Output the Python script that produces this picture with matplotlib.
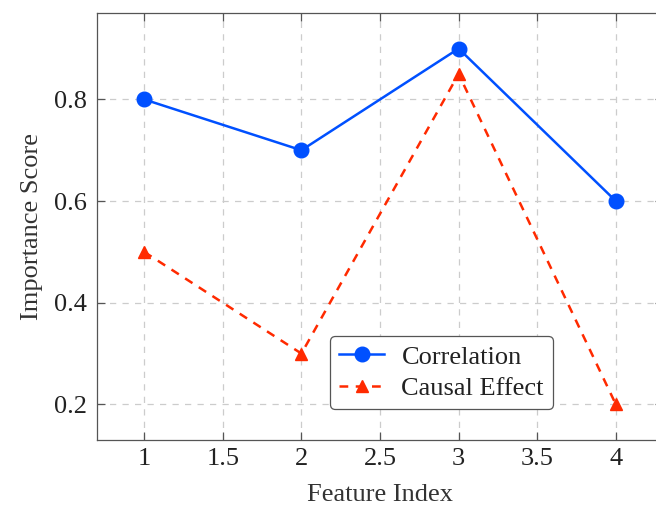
import matplotlib
matplotlib.use("Agg")
import matplotlib.pyplot as plt

features = [1, 2, 3, 4]
correlation = [0.8, 0.7, 0.9, 0.6]
causal_effect = [0.5, 0.3, 0.85, 0.2]
x_ticks = [1, 1.5, 2, 2.5, 3, 3.5, 4]
y_ticks = [0.2, 0.4, 0.6, 0.8]

plt.rcParams["font.family"] = ["Liberation Serif", "DejaVu Serif"]
plt.rcParams["text.color"] = "#222222"
plt.rcParams["xtick.labelcolor"] = "#222222"
plt.rcParams["ytick.labelcolor"] = "#222222"
plt.rcParams["axes.labelcolor"] = "#333333"

fig = plt.figure(figsize=(6.56, 5.08), dpi=100)
ax = fig.add_axes([0.1479, 0.1339, 0.8628, 0.8405])

ax.plot(features, correlation, color="#0050ff", linewidth=1.8, marker="o",
        markersize=10.5, label="Correlation", zorder=3)
ax.plot(features, causal_effect, color="#ff2a00", linewidth=1.8, linestyle=(0, (3.5, 3)),
        marker="^", markersize=9, label="Causal Effect", zorder=3)

ax.set_xlim(0.7, 4.3)
ax.set_ylim(0.13, 0.97)
ax.set_xticks(x_ticks)
ax.set_xticklabels([f"{t:g}" for t in x_ticks])
ax.set_yticks(y_ticks)
ax.set_yticklabels([f"{t:g}" for t in y_ticks])

ax.grid(True, color="#cccccc", linestyle=(0, (5, 5)), linewidth=0.9)
ax.tick_params(direction="in", length=6, width=0.9, color="#555555",
               labelsize=19, top=True, right=True)
ax.tick_params(axis="x", pad=6)
ax.tick_params(axis="y", pad=7)
for spine in ax.spines.values():
    spine.set_color("#555555")
    spine.set_linewidth(0.9)

ax.set_xlabel("Feature Index", fontsize=19, labelpad=10)
ax.set_ylabel("Importance Score", fontsize=19, labelpad=8)

leg = ax.legend(loc="lower left", bbox_to_anchor=(0.412, 0.072), fontsize=19,
                frameon=True, fancybox=True, edgecolor="#555555", framealpha=1,
                handlelength=1.7, borderpad=0.35, labelspacing=0.3,
                handletextpad=0.65, borderaxespad=0)
leg.get_frame().set_linewidth(0.9)

fig.savefig("out.png", dpi=100)
